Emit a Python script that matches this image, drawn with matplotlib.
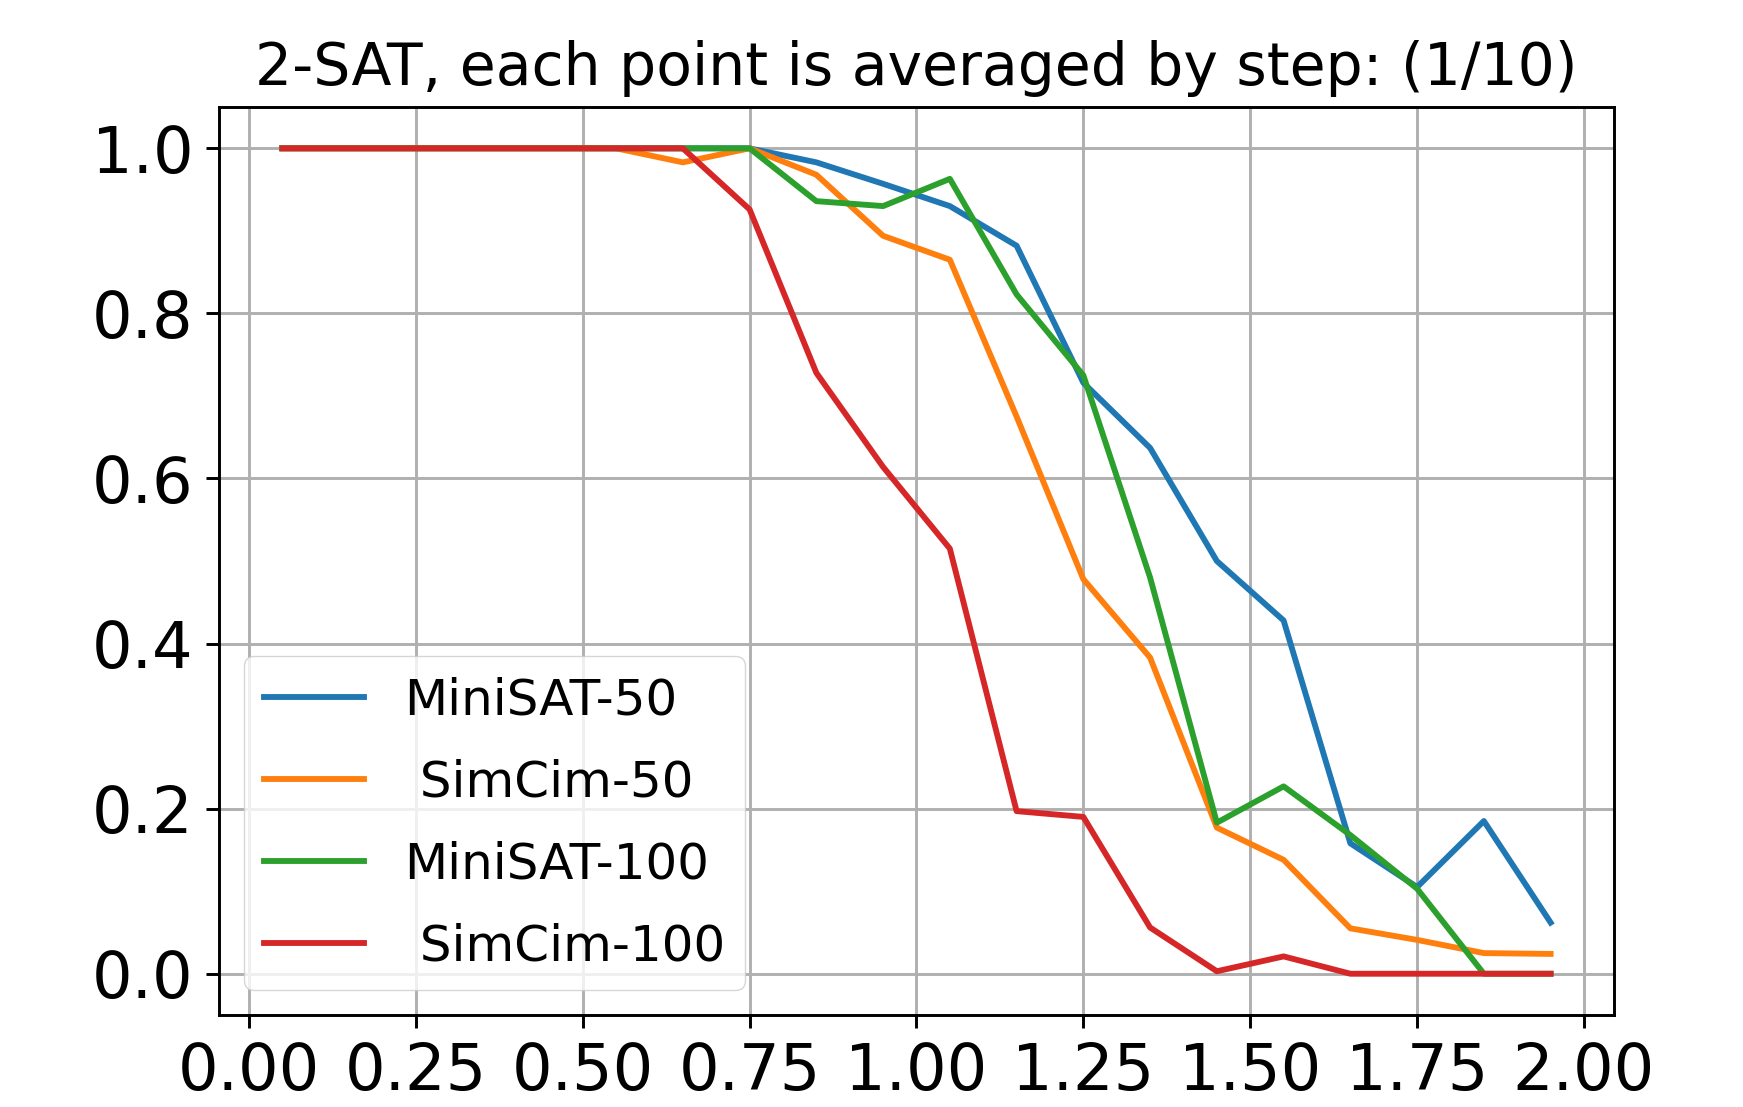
import matplotlib
matplotlib.use("Agg")
import matplotlib.pyplot as plt
import numpy as np

# x positions (bin centres, step 1/10)
x = [0.05, 0.15, 0.25, 0.35, 0.45, 0.55, 0.65, 0.75, 0.85, 0.95,
     1.05, 1.15, 1.25, 1.35, 1.45, 1.55, 1.65, 1.75, 1.85, 1.95]

minisat_50 = [1.0, 1.0, 1.0, 1.0, 1.0, 1.0, 1.0, 1.0, 0.983, 0.957,
              0.930, 0.882, 0.716, 0.637, 0.500, 0.428, 0.158, 0.105, 0.185, 0.062]
simcim_50 = [1.0, 1.0, 1.0, 1.0, 1.0, 1.0, 0.983, 1.0, 0.968, 0.894,
             0.865, 0.675, 0.478, 0.383, 0.177, 0.138, 0.055, 0.041, 0.025, 0.024]
minisat_100 = [1.0, 1.0, 1.0, 1.0, 1.0, 1.0, 1.0, 1.0, 0.936, 0.930,
               0.963, 0.823, 0.725, 0.480, 0.183, 0.227, 0.168, 0.103, 0.0, 0.0]
simcim_100 = [1.0, 1.0, 1.0, 1.0, 1.0, 1.0, 1.0, 0.926, 0.728, 0.614,
              0.515, 0.197, 0.190, 0.056, 0.003, 0.021, 0.0, 0.0, 0.0, 0.0]

S = 2.64  # scale of the original small figure

fig = plt.figure(figsize=(17.43, 11.07), dpi=100)
ax = fig.add_axes([0.1256, 0.0831, 0.8004, 0.8202])

ax.plot(x, minisat_50, label='MiniSAT-50', lw=1.6 * S)
ax.plot(x, simcim_50, label=' SimCim-50', lw=1.6 * S)
ax.plot(x, minisat_100, label='MiniSAT-100', lw=1.6 * S)
ax.plot(x, simcim_100, label=' SimCim-100', lw=1.6 * S)

ax.set_xticks(np.arange(0, 2.01, 0.25))
ax.set_yticks(np.arange(0, 1.01, 0.2))
ax.tick_params(labelsize=46, length=3.5 * S, width=0.8 * S, pad=3.5 * S)
for sp in ax.spines.values():
    sp.set_linewidth(0.8 * S)

ax.set_title('2-SAT, each point is averaged by step: (1/10)', fontsize=42, pad=6 * S)
ax.grid(True, lw=0.8 * S)
ax.legend(loc='lower left', fontsize=36, handlelength=2.0, labelspacing=0.68)

fig.savefig('out.png', dpi=100)
